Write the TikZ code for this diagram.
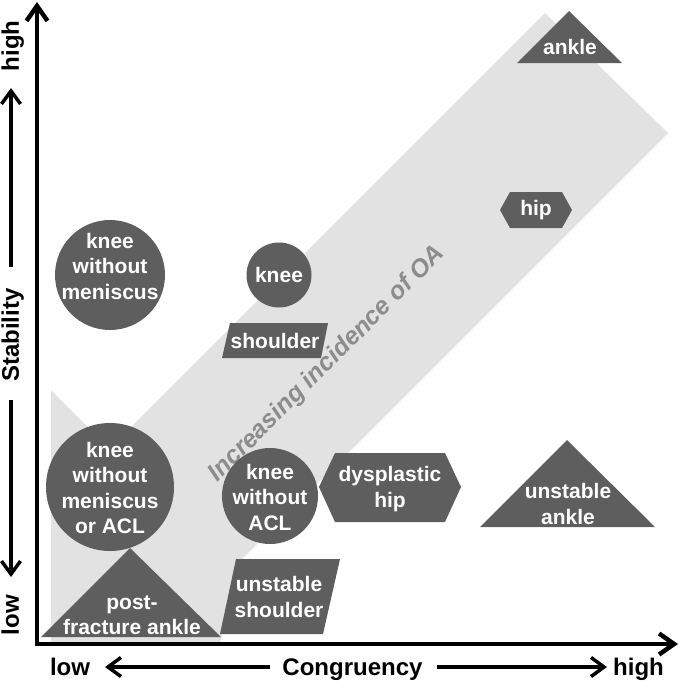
\documentclass[tikz,border=0pt]{standalone}
\usepackage{fontspec}
\setmainfont{Liberation Sans}
\usetikzlibrary{arrows.meta}
\definecolor{shapegray}{RGB}{94,94,94}
\definecolor{bandgray}{RGB}{226,226,226}
\definecolor{oagray}{RGB}{140,140,140}
\begin{document}
\begin{tikzpicture}[x=1pt,y=-1pt,
  shp/.style={fill=shapegray},
  lbl/.style={text=white,font=\fontsize{21}{25.5}\selectfont\bfseries,align=center,inner sep=0pt},
  axlbl/.style={font=\fontsize{24}{28}\selectfont\bfseries,inner sep=0pt},
  axis/.style={line width=4.5pt,line join=miter,{Straight Barb[length=15pt,width=21pt]}-{Straight Barb[length=15pt,width=21pt]}},
  dirarrow/.style={line width=3.5pt,-{Straight Barb[length=13pt,width=19pt]}}]
\useasboundingbox (0,0) rectangle (680,681);

% increasing band
\fill[bandgray] (51,390) -- (109.5,448.5) -- (545,13) -- (668,133) -- (238,563) -- (220,643) -- (51,643) -- cycle;
\node[rotate=45,text=oagray,font=\fontsize{25}{25}\selectfont\bfseries\itshape,inner sep=0pt] (oa) at (327,364) {Increasing incidence of OA};

% shapes
\fill[shp] (110,275) circle[radius=55];
\fill[shp] (279,275) circle[radius=32.5];
\fill[shp] (230,323) -- (328,323) -- (321,358) -- (222,358) -- cycle;
\fill[shp] (110,487) circle[radius=64];
\fill[shp] (270,496) circle[radius=48];
\fill[shp] (319,487) -- (335,453) -- (445,453) -- (461,487) -- (445,522) -- (335,522) -- cycle;
\fill[shp] (130,548) -- (221,637) -- (41,637) -- cycle;
\fill[shp] (236,559) -- (340,559) -- (323,634) -- (220,634) -- cycle;
\fill[shp] (567,440) -- (655,527) -- (480,527) -- cycle;
\fill[shp] (569,11) -- (622,63) -- (517,63) -- cycle;
\fill[shp] (500,210) -- (510,192) -- (562,192) -- (572,210) -- (562,228) -- (510,228) -- cycle;

% labels
\node[lbl] (kwm) at (110,266) {knee\\without\\meniscus};
\node[lbl] (knee) at (279,275) {knee};
\node[lbl] (sh) at (275,341) {shoulder};
\node[lbl] (kwma) at (110,488) {knee\\without\\meniscus\\or ACL};
\node[lbl] (kwa) at (270,497) {knee\\without\\ACL};
\node[lbl] (dh) at (390,489) {dysplastic\\hip};
\node[lbl] (pfa) at (132,615) {post-\\fracture ankle};
\node[lbl] (ush) at (279,597) {unstable\\shoulder};
\node[lbl] (ua) at (568,504) {unstable\\ankle};
\node[lbl] (ank) at (570,47) {ankle};
\node[lbl] (hip) at (536,210) {hip};

% axes
\coordinate (ytop) at (37,2);
\coordinate (origin) at (37,644);
\coordinate (xend) at (678,644);
\draw[axis] (ytop) -- (origin) -- (xend);

% axis labels
\node[axlbl,anchor=base] (xlow) at (70,675) {low};
\node[axlbl,anchor=base] (xcong) at (352.5,675) {Congruency};
\node[axlbl,anchor=base] (xhigh) at (638.5,675) {high};
\coordinate (la1) at (270,667);
\coordinate (la2) at (105,667);
\coordinate (ra1) at (437,667);
\coordinate (ra2) at (607,667);
\draw[dirarrow] (la1) -- (la2);
\draw[dirarrow] (ra1) -- (ra2);

\node[axlbl,rotate=90,anchor=base] (yhigh) at (19,46) {high};
\node[axlbl,rotate=90,anchor=base] (ystab) at (19,335) {Stability};
\node[axlbl,rotate=90,anchor=base] (ylow) at (19,615) {low};
\coordinate (ua1) at (11,267);
\coordinate (ua2) at (11,88);
\coordinate (da1) at (11,400);
\coordinate (da2) at (11,577);
\draw[dirarrow] (ua1) -- (ua2);
\draw[dirarrow] (da1) -- (da2);
\end{tikzpicture}
\end{document}
